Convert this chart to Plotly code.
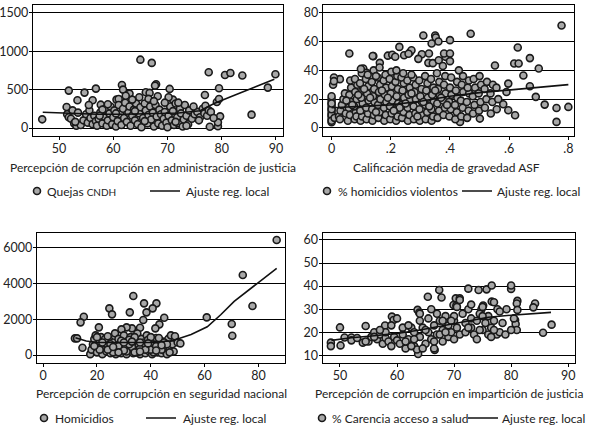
import plotly.graph_objects as go

# panel 1: quejas CNDH vs percepcion de corrupcion en administracion de justicia
quejas_pts = [
    (46.9, 113), (65, 890), (67.1, 848), (77.6, 726), (80.6, 691), (81.6, 717), (83.8, 683),
    (89.9, 700), (88.5, 526), (85.5, 174), (67.9, 570), (67.7, 552), (61.6, 561), (61.8, 500),
    (66, 465), (66.7, 457), (70.4, 509), (51.8, 487), (54.7, 461), (56.8, 513), (63, 448),
    (68.2, 413), (76.9, 430), (79.5, 517), (79.1, 339), (79.5, 378), (53.4, 361), (56.2, 361),
    (57.7, 304), (60.6, 370), (61, 378), (51.4, 274), (79.7, 152), (77.8, 17), (79.3, 22),
    (79.3, 74), (71, 370),
    (51.5, 180), (51.8, 140), (52.2, 120), (52.5, 230), (52.8, 60), (53.2, 30), (53.5, 200),
    (54, 40), (54.5, 100), (55, 180), (55.3, 70), (55.6, 230), (55.8, 130), (56.2, 50),
    (56.5, 160), (56.8, 90), (57, 30), (57.3, 120), (57.6, 200), (58, 60), (58.3, 150),
    (58.5, 250), (58.8, 30), (59, 100), (59.3, 190), (59.5, 280), (59.8, 50), (60, 140),
    (60.2, 230), (60.5, 20), (60.8, 90), (61, 300), (61.3, 180), (61.5, 40), (61.8, 250),
    (62, 130), (62.2, 330), (62.5, 80), (62.8, 200), (63, 280), (63.2, 30), (63.5, 160),
    (63.8, 240), (64, 100), (64.2, 320), (64.5, 50), (64.8, 190), (65, 270), (65.2, 10),
    (65.5, 130), (65.8, 320), (66, 230), (66.3, 60), (66.5, 170), (66.8, 280), (67, 110),
    (67.3, 200), (67.5, 20), (67.8, 300), (68, 150), (68.3, 60), (68.5, 240), (68.8, 180),
    (69, 30), (69.3, 120), (69.5, 210), (69.8, 70), (70, 10), (70.2, 160), (70.5, 280),
    (70.8, 100), (71, 220), (71.2, 40), (71.5, 320), (71.8, 140), (72, 60), (72.3, 250),
    (72.5, 190), (72.8, 20), (73, 110), (73.2, 300), (73.5, 160), (73.8, 50), (74, 230),
    (74.5, 120), (75, 180), (75.5, 210), (76, 140), (76.5, 250), (76.8, 190), (77, 290),
    (77.3, 160), (77.6, 230), (78, 210), (78.5, 130), (64.8, 400), (63.5, 370), (59, 310),
    (55.5, 300), (70.2, 400), (72, 330), (74.8, 280), (66.5, 380), (62.3, 420), (69.5, 330),
    (53, 80), (58, 240), (60.5, 190), (64, 220), (67.5, 350), (71.5, 80), (73.5, 30),
    (75.8, 100), (57.5, 160), (65.8, 90),
]
quejas_fit_x = [47, 52, 57, 62, 67, 72, 76, 78.7, 82, 86, 89.7]
quejas_fit_y = [205, 190, 180, 180, 185, 195, 225, 322, 416, 530, 635]

# panel 2: % homicidios violentos vs calificacion media de gravedad ASF
homicidios_pct_pts = [
    (0.777, 71.2), (0.47, 65.4), (0.31, 64.2), (0.35, 64.2), (0.352, 62.8), (0.361, 60),
    (0.40, 61), (0.338, 58.7), (0.06, 51.7), (0.141, 49.9), (0.229, 56.3), (0.629, 55.9),
    (0.617, 44.8), (0.632, 44.8), (0.67, 48.5), (0.70, 41.3), (0.552, 43.4), (0.648, 36.4),
    (0.67, 29), (0.69, 21.6), (0.72, 16.2), (0.76, 13.9), (0.8, 14.6), (0.76, 4.2),
    (0.597, 30.8), (0.591, 25), (0.58, 16.5), (0.597, 12.3), (0.62, 8.8), (0.501, 6.5),
    (0.43, 40), (0.385, 49.4), (0.329, 51.7), (0.305, 51.2), (0.265, 52.6), (0.27, 54),
    (0.293, 48), (0.327, 45.2), (0.38, 51.7), (0.4, 51.7), (0.4, 46.4), (0.434, 4.2),
    (0.028, 33.9), (0.008, 35), (0.163, 45.2), (0.107, 41.3), (0.118, 38.3),
    (0.19, 50.2), (0.205, 50.8), (0.215, 49.5), (0.245, 50.5), (0.26, 51.5),
    (0, 4), (0, 6), (0, 8), (0, 10), (0, 12), (0, 14), (0, 16), (0, 18), (0, 20), (0, 22),
    (0, 9), (0, 13), (0, 17), (0, 5), (0.005, 30), (0.008, 32.5), (0.01, 7),
    (0.025, 8), (0.03, 12), (0.035, 16), (0.04, 20), (0.045, 24), (0.028, 6), (0.048, 10),
    (0.055, 5), (0.062, 9), (0.058, 14), (0.065, 18), (0.06, 23), (0.066, 28), (0.063, 33),
    (0.078, 6), (0.082, 11), (0.076, 15), (0.085, 20), (0.08, 25), (0.087, 30), (0.079, 34), (0.084, 8),
    (0.098, 5), (0.103, 8), (0.097, 12), (0.105, 17), (0.1, 21), (0.104, 26), (0.096, 31), (0.102, 38), (0.099, 41),
    (0.118, 6), (0.123, 10), (0.117, 14), (0.125, 19), (0.12, 24), (0.124, 29), (0.116, 34), (0.122, 37),
    (0.138, 5), (0.143, 9), (0.137, 13), (0.145, 18), (0.14, 22), (0.144, 27), (0.136, 32), (0.142, 40), (0.139, 50),
    (0.158, 7), (0.163, 11), (0.157, 16), (0.165, 20), (0.16, 25), (0.164, 30), (0.156, 35), (0.162, 42),
    (0.178, 5), (0.183, 9), (0.177, 14), (0.185, 18), (0.18, 23), (0.184, 28), (0.176, 33), (0.182, 37),
    (0.198, 6), (0.203, 10), (0.197, 15), (0.205, 19), (0.2, 24), (0.204, 29), (0.196, 34), (0.202, 39),
    (0.218, 5), (0.223, 8), (0.217, 13), (0.225, 17), (0.22, 22), (0.224, 27), (0.216, 32), (0.222, 36), (0.219, 40),
    (0.238, 7), (0.243, 11), (0.237, 16), (0.245, 21), (0.24, 26), (0.244, 31), (0.236, 35), (0.242, 38),
    (0.258, 5), (0.263, 9), (0.257, 14), (0.265, 19), (0.26, 23), (0.264, 28), (0.256, 33),
    (0.278, 6), (0.283, 10), (0.277, 15), (0.285, 20), (0.28, 25), (0.284, 30), (0.276, 35),
    (0.298, 5), (0.303, 9), (0.297, 13), (0.305, 18), (0.3, 22), (0.304, 27), (0.296, 33),
    (0.318, 6), (0.323, 11), (0.317, 16), (0.325, 21), (0.32, 26), (0.324, 31), (0.316, 36),
    (0.338, 5), (0.343, 8), (0.337, 13), (0.345, 18), (0.34, 23), (0.344, 28), (0.336, 34), (0.342, 45),
    (0.358, 7), (0.363, 12), (0.357, 17), (0.365, 22), (0.36, 27), (0.364, 32), (0.356, 38), (0.362, 47),
    (0.378, 9), (0.383, 14), (0.377, 19), (0.385, 24), (0.38, 30), (0.384, 36), (0.376, 43),
    (0.398, 8), (0.403, 13), (0.397, 18), (0.405, 23), (0.4, 28), (0.404, 35),
    (0.418, 6), (0.423, 11), (0.417, 16), (0.425, 21), (0.42, 26), (0.424, 32),
    (0.438, 8), (0.443, 14), (0.437, 19), (0.445, 25), (0.44, 30), (0.444, 36),
    (0.458, 7), (0.463, 12), (0.457, 18), (0.465, 24), (0.46, 28), (0.464, 33),
    (0.478, 10), (0.483, 16), (0.477, 22), (0.485, 28), (0.48, 34),
    (0.498, 12), (0.503, 18), (0.497, 24), (0.505, 30), (0.5, 36),
    (0.518, 14), (0.523, 20), (0.517, 27), (0.525, 32),
    (0.538, 10), (0.543, 18), (0.537, 24), (0.545, 30),
    (0.558, 13), (0.563, 20), (0.557, 28),
    (0.07, 16), (0.11, 27), (0.15, 11), (0.19, 21), (0.23, 14), (0.27, 24), (0.31, 18),
    (0.35, 26), (0.39, 16), (0.13, 21), (0.17, 26), (0.21, 12), (0.25, 17), (0.29, 8),
    (0.33, 15), (0.37, 21), (0.09, 23), (0.05, 19), (0.15, 36), (0.27, 37),
]
homicidios_pct_fit_x = [0, 0.1, 0.2, 0.3, 0.4, 0.5, 0.6, 0.7, 0.8]
homicidios_pct_fit_y = [14, 15, 16, 18.5, 22, 24.5, 26.5, 28.3, 30.1]

# panel 3: homicidios vs percepcion de corrupcion en seguridad nacional
homicidios_pts = [
    (86.8, 6427), (74.2, 4471), (77.8, 2739), (60.8, 2105), (70.1, 1733), (70.3, 1080),
    (33.5, 3297), (37.5, 2888), (42.1, 2888), (40.7, 2608), (38.4, 2385), (32.2, 2385),
    (24.6, 2608), (25.6, 2273), (15.1, 2142), (13.9, 1826), (45, 2087), (43.2, 1714),
    (41.7, 1490), (37.2, 1956), (20.7, 1546), (26.7, 1211), (11.8, 931), (12.6, 931),
    (14.6, 410), (36, 1527), (33, 1490), (31, 1546), (29.1, 1434),
    (17.5, 50), (18, 300), (18.5, 600), (19, 900), (19.5, 1100), (20, 150), (20.5, 450),
    (21, 750), (21.5, 1000), (22, 50), (22.5, 350), (23, 650), (23.5, 200), (24, 500),
    (24.5, 850), (25, 100), (25.5, 400), (26, 700), (26.5, 250), (27, 50), (27.5, 550),
    (28, 900), (28.5, 300), (29, 100), (29.5, 650), (30, 1100), (30.5, 400), (31, 50),
    (31.5, 750), (32, 250), (32.5, 1000), (33, 550), (33.5, 100), (34, 800), (34.5, 350),
    (35, 1200), (35.5, 600), (36, 50), (36.5, 900), (37, 300), (37.5, 700), (38, 100),
    (38.5, 1100), (39, 450), (39.5, 200), (40, 800), (40.5, 50), (41, 550), (41.5, 300),
    (42, 950), (42.5, 150), (43, 650), (43.5, 400), (44, 100), (44.5, 750), (45, 250),
    (45.5, 500), (46, 50), (46.5, 900), (47, 350), (47.5, 1100), (48, 600), (48.5, 200),
    (49, 1050), (50, 700), (51, 650), (21, 300), (23, 900), (25, 600), (27, 350), (29, 800),
    (31, 200), (33, 450), (35, 150), (37, 550), (39, 850), (41, 150), (43, 950), (45, 700),
    (47, 150), (19, 500), (22, 700), (26, 150), (28, 500), (30, 250), (32, 600), (34, 150),
    (36, 350), (38, 600), (40, 300), (42, 500), (44, 300), (46, 600), (20, 1000), (24, 300),
    (28, 150), (32, 850), (36, 700), (40, 1000), (44, 550), (30, 700), (34, 1000), (38, 300),
    (26, 450), (42, 250), (36, 200), (24, 1050), (39, 650), (33, 750),
]
homicidios_fit_x = [12, 16, 20, 30, 40, 48, 55, 61, 66, 71, 76, 81, 86.8]
homicidios_fit_y = [970, 780, 700, 680, 700, 800, 1150, 1580, 2250, 3000, 3600, 4150, 4850]

# panel 4: % carencia acceso a salud vs percepcion de corrupcion en imparticion de justicia
salud_pts = [
    (48.4, 15.5), (48.4, 14), (50, 22.1), (50.1, 14.3), (50.8, 17.7), (52, 17.7),
    (54.5, 22.7), (65.4, 35.4), (67.4, 38.3), (67.8, 35.1), (69.9, 31.8), (70.4, 31.6),
    (70.3, 34.7), (71, 34.7), (72.5, 38.9), (74.3, 38.3), (75.7, 38.6), (76.6, 40.3),
    (80, 38.8), (80, 40.3), (76.6, 33.3), (81.1, 33.6), (81, 32.5), (84.2, 32.5),
    (83.9, 30.8), (81.1, 29.7), (87.1, 23.3), (85.6, 19.8), (80.7, 25.3), (80.8, 23.6),
    (81, 21), (63.6, 29.7), (63.9, 28.5), (59.1, 26.8), (59.4, 25.3), (57.9, 22.9),
    (63.7, 10.6), (66.6, 12.3), (79.2, 30), (77.6, 30), (74.8, 30), (75.1, 31.6),
    (52, 16.5), (53, 17.5), (54, 15.5), (55, 16), (55.5, 18), (56, 20), (56.5, 17),
    (57, 19), (57.5, 15), (58, 17.5), (58.5, 16), (59, 14), (59.5, 18), (60, 16.5),
    (60.5, 15), (61, 19), (61.5, 13), (62, 17), (62.5, 22), (63, 14), (63, 20),
    (63.5, 12.5), (64, 18), (64, 25), (64.5, 22), (65, 15), (65.5, 20), (65.5, 26),
    (66, 17), (66.5, 23), (66.5, 13), (67, 19), (67, 28), (67.5, 25), (68, 16), (68, 21),
    (68.5, 27), (69, 18), (69, 23), (69.5, 20), (70, 17), (70, 25), (70.5, 22), (70.5, 31),
    (71, 19), (71.5, 28), (72, 24), (72, 20), (72.5, 30), (73, 22), (73, 26), (73.5, 19),
    (74, 25), (74, 17), (74.5, 28), (75, 21), (75, 31), (75.5, 24), (76, 19), (76, 27),
    (76.5, 22), (77, 25), (77, 33), (77.5, 19), (78, 29), (78, 20), (78.5, 24), (61, 22),
    (62, 23), (60, 26), (59, 23), (58, 20), (57, 21), (64, 28), (66, 30), (68, 25), (70, 27),
    (71, 34), (73, 32), (75, 27), (76.5, 18), (77, 21), (69.5, 25), (67.5, 19), (65, 21),
    (63, 17), (54.5, 16), (56, 18), (61.5, 16), (66.5, 16), (68.5, 20), (72.5, 22),
    (74.5, 21), (62.5, 14), (64.5, 13), (79, 19), (80, 21), (80.5, 26),
]
salud_fit_x = [48.5, 52, 56, 60, 64, 68, 72, 76, 80, 84, 87]
salud_fit_y = [16.5, 17.6, 18.5, 19.5, 21, 22.8, 24.5, 26.5, 27.4, 28, 28.6]

FONT = "Lato, Liberation Sans, sans-serif"
W, H = 589, 429
marker_style = dict(symbol="circle", size=7, color="#a8a8a8",
                    line=dict(color="#1a1a1a", width=1.6))
line_style = dict(color="#111111", width=1.6)

# legend layout per panel, in px: row y, marker centre, marker label x, line centre, line label x
panels = [
    (quejas_pts, quejas_fit_x, quejas_fit_y,
     'Quejas <span style="font-size:10px">CNDH</span>', (191, 38, 45, 166, 184)),
    (homicidios_pct_pts, homicidios_pct_fit_x, homicidios_pct_fit_y,
     "% homicidios violentos", (191, 328, 336, 478, 495)),
    (homicidios_pts, homicidios_fit_x, homicidios_fit_y, "Homicidios",
     (418, 45, 53, 162, 181)),
    (salud_pts, salud_fit_x, salud_fit_y, "% Carencia acceso a salud",
     (418, 323, 330, 484, 500)),
]

leg_common = dict(orientation="h", xanchor="left", yanchor="middle",
                  bgcolor="rgba(0,0,0,0)", font=dict(family=FONT, size=12, color="#222"),
                  itemwidth=30)
SYMBOL_OFFSET = 21  # px from legend x to the centre of its symbol

fig = go.Figure()
legends = {}
labels = []
for i, (pts, fx, fy, name, (ly, mx, mtx, lx, ltx)) in enumerate(panels):
    ax = "" if i == 0 else str(i + 1)
    leg_m = "legend" if i == 0 else "legend" + str(2 * i + 1)
    leg_l = "legend" + str(2 * i + 2)
    fig.add_trace(go.Scatter(
        x=[p[0] for p in pts], y=[p[1] for p in pts], mode="markers",
        marker=marker_style, name=" ", legend=leg_m, hovertext=name,
        xaxis="x" + ax, yaxis="y" + ax))
    fig.add_trace(go.Scatter(
        x=fx, y=fy, mode="lines", line=line_style, name=" ",
        legend=leg_l, hovertext="Ajuste reg. local", xaxis="x" + ax, yaxis="y" + ax))
    legends[leg_m] = dict(x=(mx - SYMBOL_OFFSET) / W, y=1 - ly / H, **leg_common)
    legends[leg_l] = dict(x=(lx - SYMBOL_OFFSET) / W, y=1 - ly / H, **leg_common)
    labels.append((name, mtx, ly))
    labels.append(("Ajuste reg. local", ltx, ly))

axis_common = dict(showline=True, linecolor="black", linewidth=1.3, mirror=True,
                   ticks="outside", ticklen=3, tickwidth=1.2, tickcolor="black",
                   ticklabelstandoff=-2, zeroline=False,
                   tickfont=dict(family=FONT, size=12.5, color="#222"))
xgrid = dict(showgrid=False)
ygrid = dict(showgrid=True, gridcolor="black", gridwidth=1.3)

fig.update_layout(
    width=W, height=H,
    margin=dict(l=0, r=0, t=0, b=0, autoexpand=False),
    paper_bgcolor="white", plot_bgcolor="white",
    showlegend=True,
    font=dict(family=FONT, size=12, color="#222"),
    xaxis=dict(domain=[0.056, 0.4805], range=[45.2, 91.3],
               tickvals=[50, 60, 70, 80, 90], anchor="y", **axis_common, **xgrid),
    yaxis=dict(domain=[0.683, 0.988], range=[-104, 1600],
               tickvals=[0, 500, 1000, 1500], anchor="x", **axis_common, **ygrid),
    xaxis2=dict(domain=[0.5484, 0.9745], range=[-0.029, 0.819],
                tickvals=[0, 0.2, 0.4, 0.6, 0.8], ticktext=["0", ".2", ".4", ".6", ".8"],
                anchor="y2", **axis_common, **xgrid),
    yaxis2=dict(domain=[0.683, 0.988], range=[-5.6, 85.3],
                tickvals=[0, 20, 40, 60, 80], anchor="x2", **axis_common, **ygrid),
    xaxis3=dict(domain=[0.0628, 0.4839], range=[-2.3, 89.9],
                tickvals=[0, 20, 40, 60, 80], anchor="y3", **axis_common, **xgrid),
    yaxis3=dict(domain=[0.1538, 0.4569], range=[-447, 6822],
                tickvals=[0, 2000, 4000, 6000], anchor="x3", **axis_common, **ygrid),
    xaxis4=dict(domain=[0.5479, 0.9762], range=[46.97, 91.2],
                tickvals=[50, 60, 70, 80, 90], anchor="y4", **axis_common, **xgrid),
    yaxis4=dict(domain=[0.1545, 0.4562], range=[6.8, 62.9],
                tickvals=[10, 20, 30, 40, 50, 60], anchor="x4", **axis_common, **ygrid),
    **legends,
)

# legend labels
for text, lx, ly in labels:
    fig.add_annotation(text=text, x=lx / W, y=1 - ly / H, xref="paper", yref="paper",
                       showarrow=False, xanchor="left", yanchor="middle",
                       font=dict(family=FONT, size=12, color="#222"))

titles = [
    ("Percepción de corrupción en administración de justicia", 153, 167),
    ("Calificación media de gravedad ASF", 446, 167),
    ("Percepción de corrupción en seguridad nacional", 161, 393),
    ("Percepción de corrupción en impartición de justicia", 449, 393),
]
for text, cx, cy in titles:
    fig.add_annotation(text=text, x=cx / W, y=1 - cy / H, xref="paper", yref="paper",
                       showarrow=False, xanchor="center", yanchor="middle",
                       font=dict(family=FONT, size=12, color="#222"))

# drop the page's default body margin so the 589x429 figure fills the window
fig.write_html("out.html", config={"displayModeBar": False},
               post_script="document.body.style.margin='0';")
